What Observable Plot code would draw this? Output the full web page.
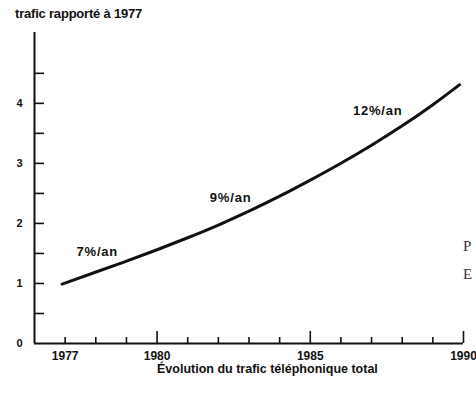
<!DOCTYPE html>
<html>
<head>
<meta charset="utf-8">
<script src="https://cdn.jsdelivr.net/npm/d3@7"></script>
<script src="https://cdn.jsdelivr.net/npm/@observablehq/plot@0.6"></script>
<style>
  html, body { margin: 0; padding: 0; background: #fff; }
  #wrap { position: relative; width: 476px; height: 402px; overflow: hidden; font-family: "Liberation Sans", Arial, sans-serif; color: #111; }
  #title { position: absolute; left: 15px; top: 6px; font-size: 13px; font-weight: bold; letter-spacing: -0.2px; white-space: nowrap; }
  #chart { position: absolute; left: 0; top: 0; }
  #caption { position: absolute; left: 157px; top: 362px; font-size: 12.5px; font-weight: bold; white-space: nowrap; }
  .stray { position: absolute; font-family: "Liberation Serif", "DejaVu Serif", serif; font-size: 15px; color: #333; }
</style>
</head>
<body>
<div id="wrap">
  <div id="title">trafic rapporté à 1977</div>
  <div id="chart"></div>
  <div id="caption">Évolution du trafic téléphonique total</div>
  <div class="stray" style="left:463px; top:238px;">P</div>
  <div class="stray" style="left:463px; top:266px;">E</div>
</div>
<script>
// Data
const years   = [1976.9, 1978, 1979, 1980, 1981, 1982, 1983, 1984, 1985, 1986, 1987, 1988, 1989, 1989.87];
const traffic = [0.99, 1.19, 1.37, 1.56, 1.76, 1.97, 2.2, 2.45, 2.72, 3.0, 3.3, 3.62, 3.97, 4.31];

const rateLabels = ["7%/an", "9%/an", "12%/an"];
const rateYears  = [1978.05, 1982.4, 1987.2];
const rateValues = [1.52, 2.43, 3.87];

const xMinorTicks = [1977, 1978, 1979, 1981, 1982, 1983, 1984, 1986, 1987, 1988, 1989];
const xMajorTicks = [1980, 1985, 1990];
const xTickLabels = [1977, 1980, 1985, 1990];
const yTicks      = [0.5, 1, 1.5, 2, 2.5, 3, 3.5, 4, 4.5];
const yTickLabels = [0, 1, 2, 3, 4];

const series = years.map((y, i) => ({year: y, value: traffic[i]}));
const rates = rateLabels.map((t, i) => ({label: t, year: rateYears[i], value: rateValues[i]}));

const chart = Plot.plot({
  width: 476,
  height: 380,
  marginLeft: 34,
  marginRight: 13,
  marginTop: 32,
  marginBottom: 37,
  style: {fontFamily: "'Liberation Sans', Arial, sans-serif", fontWeight: "bold", fontSize: "11px", color: "#111", background: "transparent"},
  x: {domain: [1976, 1990], label: null},
  y: {domain: [0, 5.18], label: null},
  marks: [
    // axis lines
    Plot.ruleY([0], {stroke: "#111", strokeWidth: 2}),
    Plot.ruleX([1976], {stroke: "#111", strokeWidth: 2}),
    // x ticks (inward)
    Plot.axisX({ticks: xMinorTicks, tickSize: -6, tickFormat: () => "", label: null, stroke: "#111", strokeWidth: 1.6}),
    Plot.axisX({ticks: xMajorTicks, tickSize: -12, tickFormat: () => "", label: null, stroke: "#111", strokeWidth: 1.6}),
    Plot.axisX({ticks: xTickLabels, tickSize: 0, tickPadding: 8, tickFormat: d => String(d), label: null, fontSize: 12, fontWeight: "bold", fill: "#111"}),
    // y ticks (inward)
    Plot.axisY({ticks: yTicks, tickSize: -10, tickFormat: () => "", label: null, stroke: "#111", strokeWidth: 1.6}),
    Plot.axisY({ticks: yTickLabels, tickSize: 0, tickPadding: 12, tickFormat: d => String(d), label: null, fontSize: 11, fontWeight: "bold", fill: "#111"}),
    // curve
    Plot.line(series, {x: "year", y: "value", curve: "basis", stroke: "#111", strokeWidth: 3, strokeLinecap: "round"}),
    // annotations
    Plot.text(rates, {x: "year", y: "value", text: "label", fontSize: 13, fontWeight: "bold", fill: "#111"})
  ]
});
d3.select(chart).selectAll('g[aria-label="text"] text').style("letter-spacing", "0.8px");
document.getElementById("chart").appendChild(chart);
</script>
</body>
</html>
